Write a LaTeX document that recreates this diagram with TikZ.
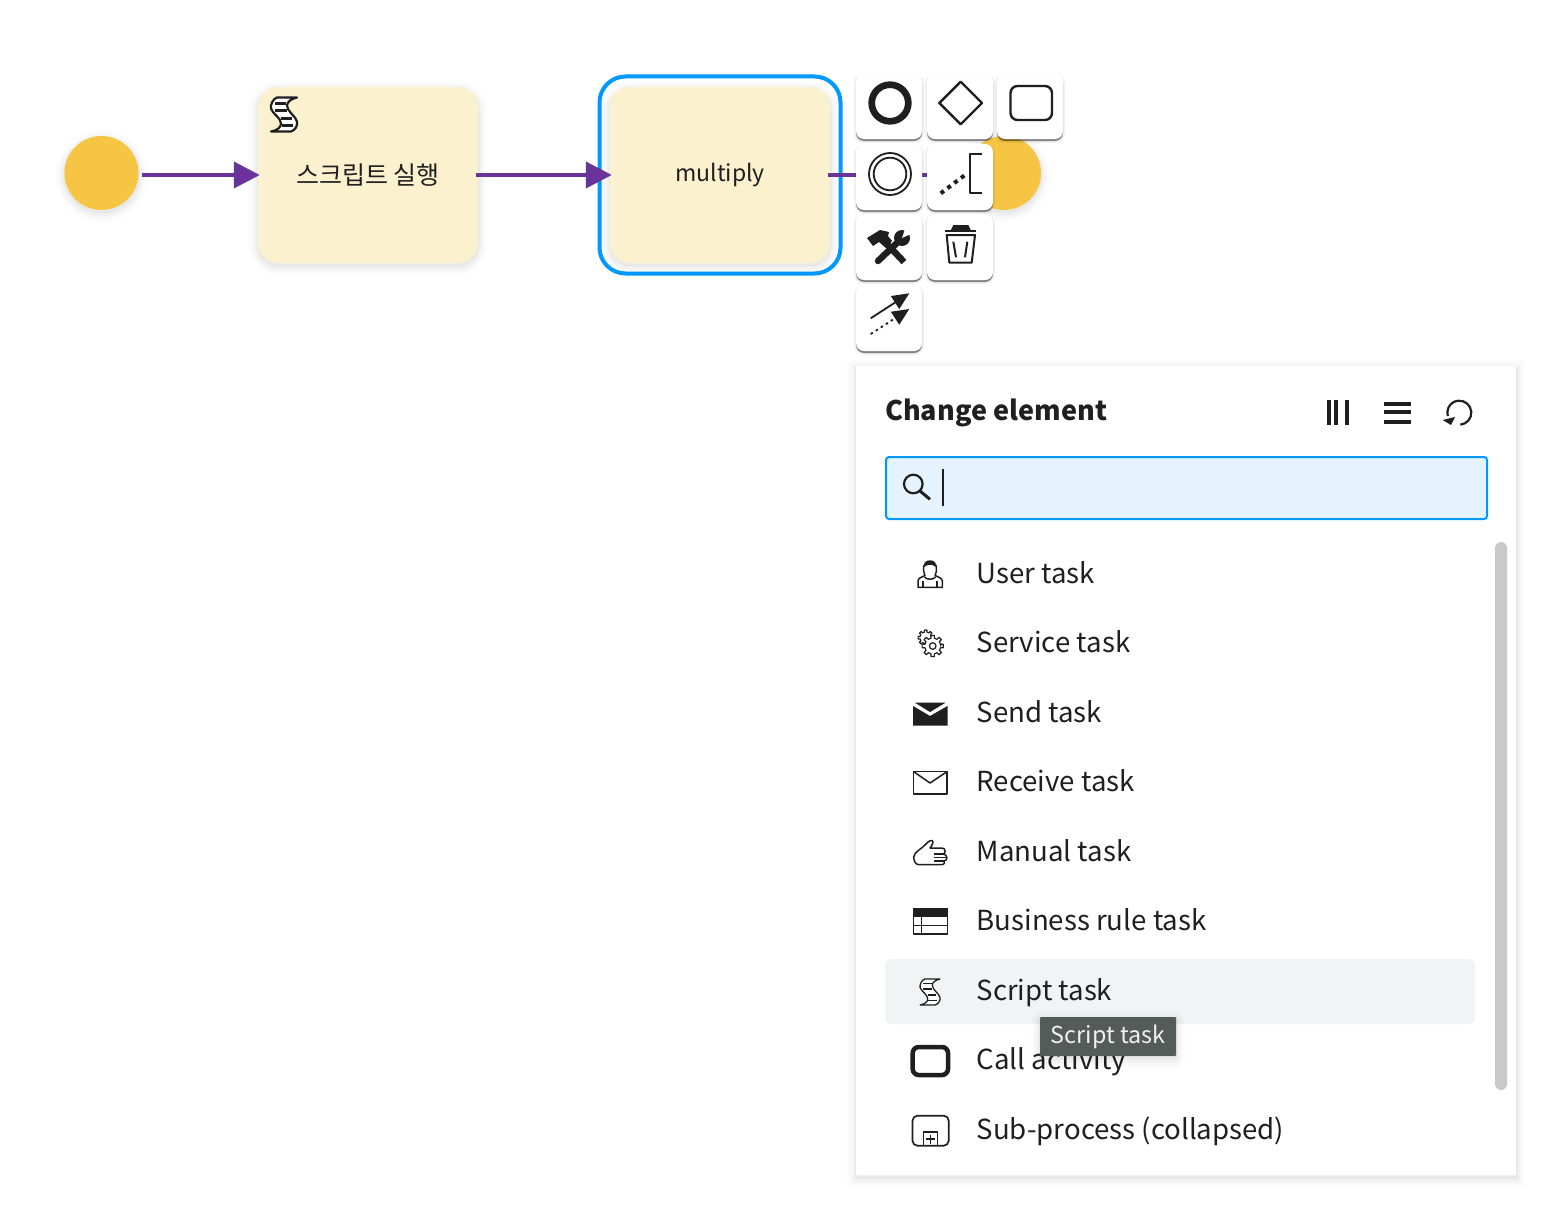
\documentclass[tikz,border=0pt]{standalone}
\usepackage{fontspec}
\setmainfont{Noto Sans CJK KR}
\newfontfamily\krfont{Noto Sans CJK KR}
\usetikzlibrary{arrows.meta}
\definecolor{inkblack}{HTML}{1F1F1F}
\definecolor{taskfill}{HTML}{FCF1CF}
\definecolor{eventfill}{HTML}{F5C543}
\definecolor{flowpurple}{HTML}{6A3399}
\definecolor{selblue}{HTML}{0099FF}
\definecolor{searchfill}{HTML}{E5F3FF}
\definecolor{rowfill}{HTML}{F1F3F5}
\definecolor{tipfill}{HTML}{555B58}
\tikzset{
  softshadow/.style={
    preaction={draw=black,draw opacity=.012,line width=18,transform canvas={yshift=-3pt}},
    preaction={draw=black,draw opacity=.018,line width=12,transform canvas={yshift=-3pt}},
    preaction={draw=black,draw opacity=.025,line width=7,transform canvas={yshift=-3pt}},
    preaction={draw=black,draw opacity=.035,line width=3,transform canvas={yshift=-2pt}}},
  event/.style={circle,fill=eventfill,minimum size=74,inner sep=0,softshadow},
  task/.style={rectangle,rounded corners=20,fill=taskfill,minimum width=220,minimum height=176,
    inner sep=0,softshadow,text=inkblack},
  flow/.style={line width=4,draw=flowpurple,
    -{Triangle[length=26,width=26,fill=flowpurple]}},
  pad/.style={rectangle,rounded corners=8,fill=white,minimum size=66,inner sep=0,
    preaction={fill=black,fill opacity=.45,transform canvas={yshift=-2pt}},
    preaction={draw=black,draw opacity=.06,line width=4,transform canvas={yshift=-2pt}}},
  icon/.style={draw=inkblack,line width=2.4,line join=round},
  item/.style={anchor=base west,inner sep=0,text=inkblack,font=\fontsize{27.6}{34}\selectfont},
  listicon/.style={draw=inkblack,line width=1.5,line join=round},
  script/.pic={
    \draw[fill=white] (-7,-17) .. controls (-11,-16) and (-14,-9) .. (-13,-6)
      .. controls (-12,-1) and (-3,3) .. (-3,9) .. controls (-3,13) and (-7,16) .. (-13,17)
      -- (7,17) .. controls (11,16) and (14,11) .. (13,7)
      .. controls (12,2) and (3,-3) .. (3,-9) .. controls (3,-13) and (8,-16) .. (13,-17) -- cycle;
    \draw (-9,-11) -- (2,-11);
    \draw (-9,-4) -- (3,-4);
    \draw (-3,4) -- (8,4);
    \draw (-2,11) -- (9,11);
  },
  gear/.pic={
    \draw[fill=white] (0:8)
      \foreach \a in {0,45,...,315} {
        -- (\a-12:8) -- (\a-9:10.7) -- (\a+9:10.7) -- (\a+12:8) -- (\a+33:8) } -- cycle;
  },
}
\begin{document}
\begin{tikzpicture}[x=1pt,y=-1pt]
\useasboundingbox (0,0) rectangle (1546,1204);
\fill[white] (0,0) rectangle (1546,1204);

% the process
\node[event] (start) at (101.5,173) {};
\node[task,font=\fontsize{25}{30}\selectfont\krfont] (script) at (368,175) {\raisebox{2pt}{스크립트 실행}};
\node[draw=selblue,line width=4,rounded corners=26,minimum width=241,minimum height=197,inner sep=0] (selection) at (720,175) {};
\node[task,font=\fontsize{23}{30}\selectfont] (multiply) at (720,175) {multiply};
\node[event] (end) at (1004,173) {};
\draw[flow,shorten >=-2] ([shift={(3,2)}]start.east) -- (script.west);
\draw[flow,shorten >=-2,shorten <=-2] (script.east) -- (multiply.west);
\draw[flow,shorten <=-2] (multiply.east) -- ([shift={(0,2)}]end.west);
\pic[listicon,line width=2.2] at (284,114.5) {script};

% context pad
\foreach \name/\x/\y in {padend/889/106,padgate/960/106,padtask/1030/106,
    padendnone/889/177,padnote/960/177,padtools/889/247,padtrash/960/247,padappend/889/318}
  \node[pad] (\name) at (\x,\y) {};
\draw[icon,line width=6.7] (890,103) circle (18.3);
\draw[icon] (960.7,81.7) -- (982,103) -- (960.7,124.3) -- (939.3,103) -- cycle;
\draw[icon,rounded corners=7] (1010.5,86) rectangle (1052,120);
\draw[icon,line width=1.8] (890,174) circle (21) (890,174) circle (16.3);
\draw[icon,line width=4,dash pattern=on 4 off 4.5] (940.7,193.3) -- (967.3,173.3);
\draw[icon,line width=2] (982.3,154) -- (970,154) -- (970,193.3) -- (982.3,193.3);
% tools
\draw[icon,line width=6.5,line cap=round] (878,261) -- (899,241);
\fill[inkblack] (902,238) circle (8);
\fill[white] (902,238) -- (913,233) -- (906,226) -- cycle;
\draw[icon,line width=6.5] (886,243) -- (904,262);
\fill[inkblack] (867,238) -- (880,230) -- (889,232) -- (888,236) -- (892,241) -- (886,248)
  -- (879,242) -- (873,246) -- cycle;
% trash
\fill[inkblack] (953.3,225) -- (968.3,225) -- (970.7,230) -- (951,230) -- cycle;
\draw[icon,line width=2] (945,231) -- (976,231);
\draw[icon,line width=2] (946.7,235) -- (949.3,262.7) -- (971.7,262.7) -- (975,235) -- cycle;
\draw[icon,line width=2] (953.3,241.7) -- (956,257.3) (967.3,241.7) -- (965,257.3);
% append
\draw[icon,line width=1.8,-{Triangle[length=17,width=15,fill=inkblack]}] (870.7,318.3) -- (909.3,293.3);
\draw[icon,line width=1.8,dash pattern=on 2.5 off 3.5,-{Triangle[length=17,width=15,fill=inkblack]}] (870.7,334) -- (909.3,309);

% popup menu
\node[rectangle,fill=white,minimum width=660,minimum height=809,inner sep=0,softshadow] (menu) at (1186,770.5) {};
\node[anchor=base west,inner sep=0,text=inkblack,font=\fontsize{27}{34}\selectfont\bfseries] (menutitle) at (885,420) {Change element};
\foreach \x in {1328.7,1335.8,1346.7}
  \draw[inkblack,line width=4] (\x,400) -- (\x,425);
\foreach \y in {404,411.7,421.7}
  \draw[inkblack,line width=4.2] (1384.3,\y) -- (1410.7,\y);
\draw[inkblack,line width=2.2] (1459.3,412.7) ++(85:12) arc (85:-196:12);
\fill[inkblack] (1442.7,420) -- (1455,417) -- (1451,425) -- cycle;
\node[rectangle,draw=selblue,fill=searchfill,line width=2,rounded corners=3,minimum width=601,minimum height=62,inner sep=0] (search) at (1186.5,488) {};
\draw[inkblack,line width=2.2] (913.3,484) circle (9.3);
\draw[inkblack,line width=3] (920,491) -- (930,499.3);
\draw[inkblack,line width=1.8] (942.7,469.3) -- (942.7,506);
\fill[rowfill,rounded corners=6] (885,959) rectangle (1475,1024);
\fill[black!21,rounded corners=6] (1495,542) rectangle (1507,1090);

\foreach \name/\y/\label in {user/583/User task,service/652/Service task,send/722/Send task,
    receive/791/Receive task,manual/861/Manual task,rule/930/Business rule task,
    scripttask/1000/Script task,call/1069/Call activity,sub/1139/Sub-process (collapsed)}
  \node[item] (\name) at (976.5,\y) {\label};

% list icons
\draw[listicon] (918,587.3) -- (918,581) .. controls (918,578) and (922,577) .. (925,575.5)
  .. controls (922,570) and (923,561) .. (930,561) .. controls (937,561) and (938,570) .. (935,575.5)
  .. controls (938,577) and (942.3,578) .. (942.3,581) -- (942.3,587.3) -- cycle;
\draw[listicon] (923,581) -- (923,587) (937,581) -- (937,587);
\draw[listicon] (924.5,577) .. controls (927,580) and (933,580) .. (935.5,577);
\fill[inkblack] (924,567) .. controls (924,559) and (936,559) .. (936,567) .. controls (932,564) and (928,564) .. (924,567);
\pic[listicon,line width=1.2,scale=.72] at (925.7,637.7) {gear};
\pic[listicon,line width=1.2] at (932.7,646) {gear};
\draw[listicon,line width=1.2] (932.7,646) circle (3.3);
\fill[inkblack] (913,706) -- (930,716) -- (947.5,706) -- (947.5,725.5) -- (913,725.5) -- cycle;
\fill[inkblack] (915,702.7) -- (945.5,702.7) -- (930,712) -- cycle;
\draw[listicon] (913.7,771.7) rectangle (947,794);
\draw[listicon] (913.7,771.7) -- (930,783) -- (947,771.7);
\draw[listicon] (928,864.7) -- (919,864.7) .. controls (915,864.7) and (913.7,860) .. (913.7,857)
  .. controls (913.7,852) and (923,848) .. (926,844) .. controls (928,841) and (933,839) .. (933,842)
  .. controls (933,845) and (931,846) .. (930,848) -- (942,848)
  .. controls (946,848) and (946,854) .. (943,854) .. controls (948,854) and (948,861) .. (944,861)
  .. controls (945,862) and (945,864.7) .. (941,864.7) -- cycle;
\draw[listicon] (934,854) -- (943,854) (934,857.5) -- (946,857.5) (934,861) -- (944,861);
\draw[listicon] (913.5,909) rectangle (947.5,934);
\fill[inkblack] (913,908.3) rectangle (948,916.7);
\draw[listicon] (913.5,925.7) -- (947.5,925.7) (921.7,916.7) -- (921.7,934);
\pic[listicon,line width=1.3,scale=.76] at (930,992) {script};
\draw[draw=inkblack,line width=4.5,rounded corners=6] (912.7,1047) rectangle (948,1075);
\draw[listicon,line width=1.7,rounded corners=5] (912.5,1115.7) rectangle (948.7,1145.7);
\draw[listicon] (923.5,1132) rectangle (937.5,1145.7);
\draw[listicon] (926,1139) -- (935,1139) (930.5,1134.5) -- (930.5,1143.5);

% tooltip
\node[rectangle,fill=tipfill,rounded corners=1,minimum width=136,minimum height=39,inner sep=0,text=white!94!black,
  font=\fontsize{23.3}{28}\selectfont,softshadow] (tooltip) at (1108,1036.5) {\raisebox{-1pt}{Script task}};
\end{tikzpicture}
\end{document}
